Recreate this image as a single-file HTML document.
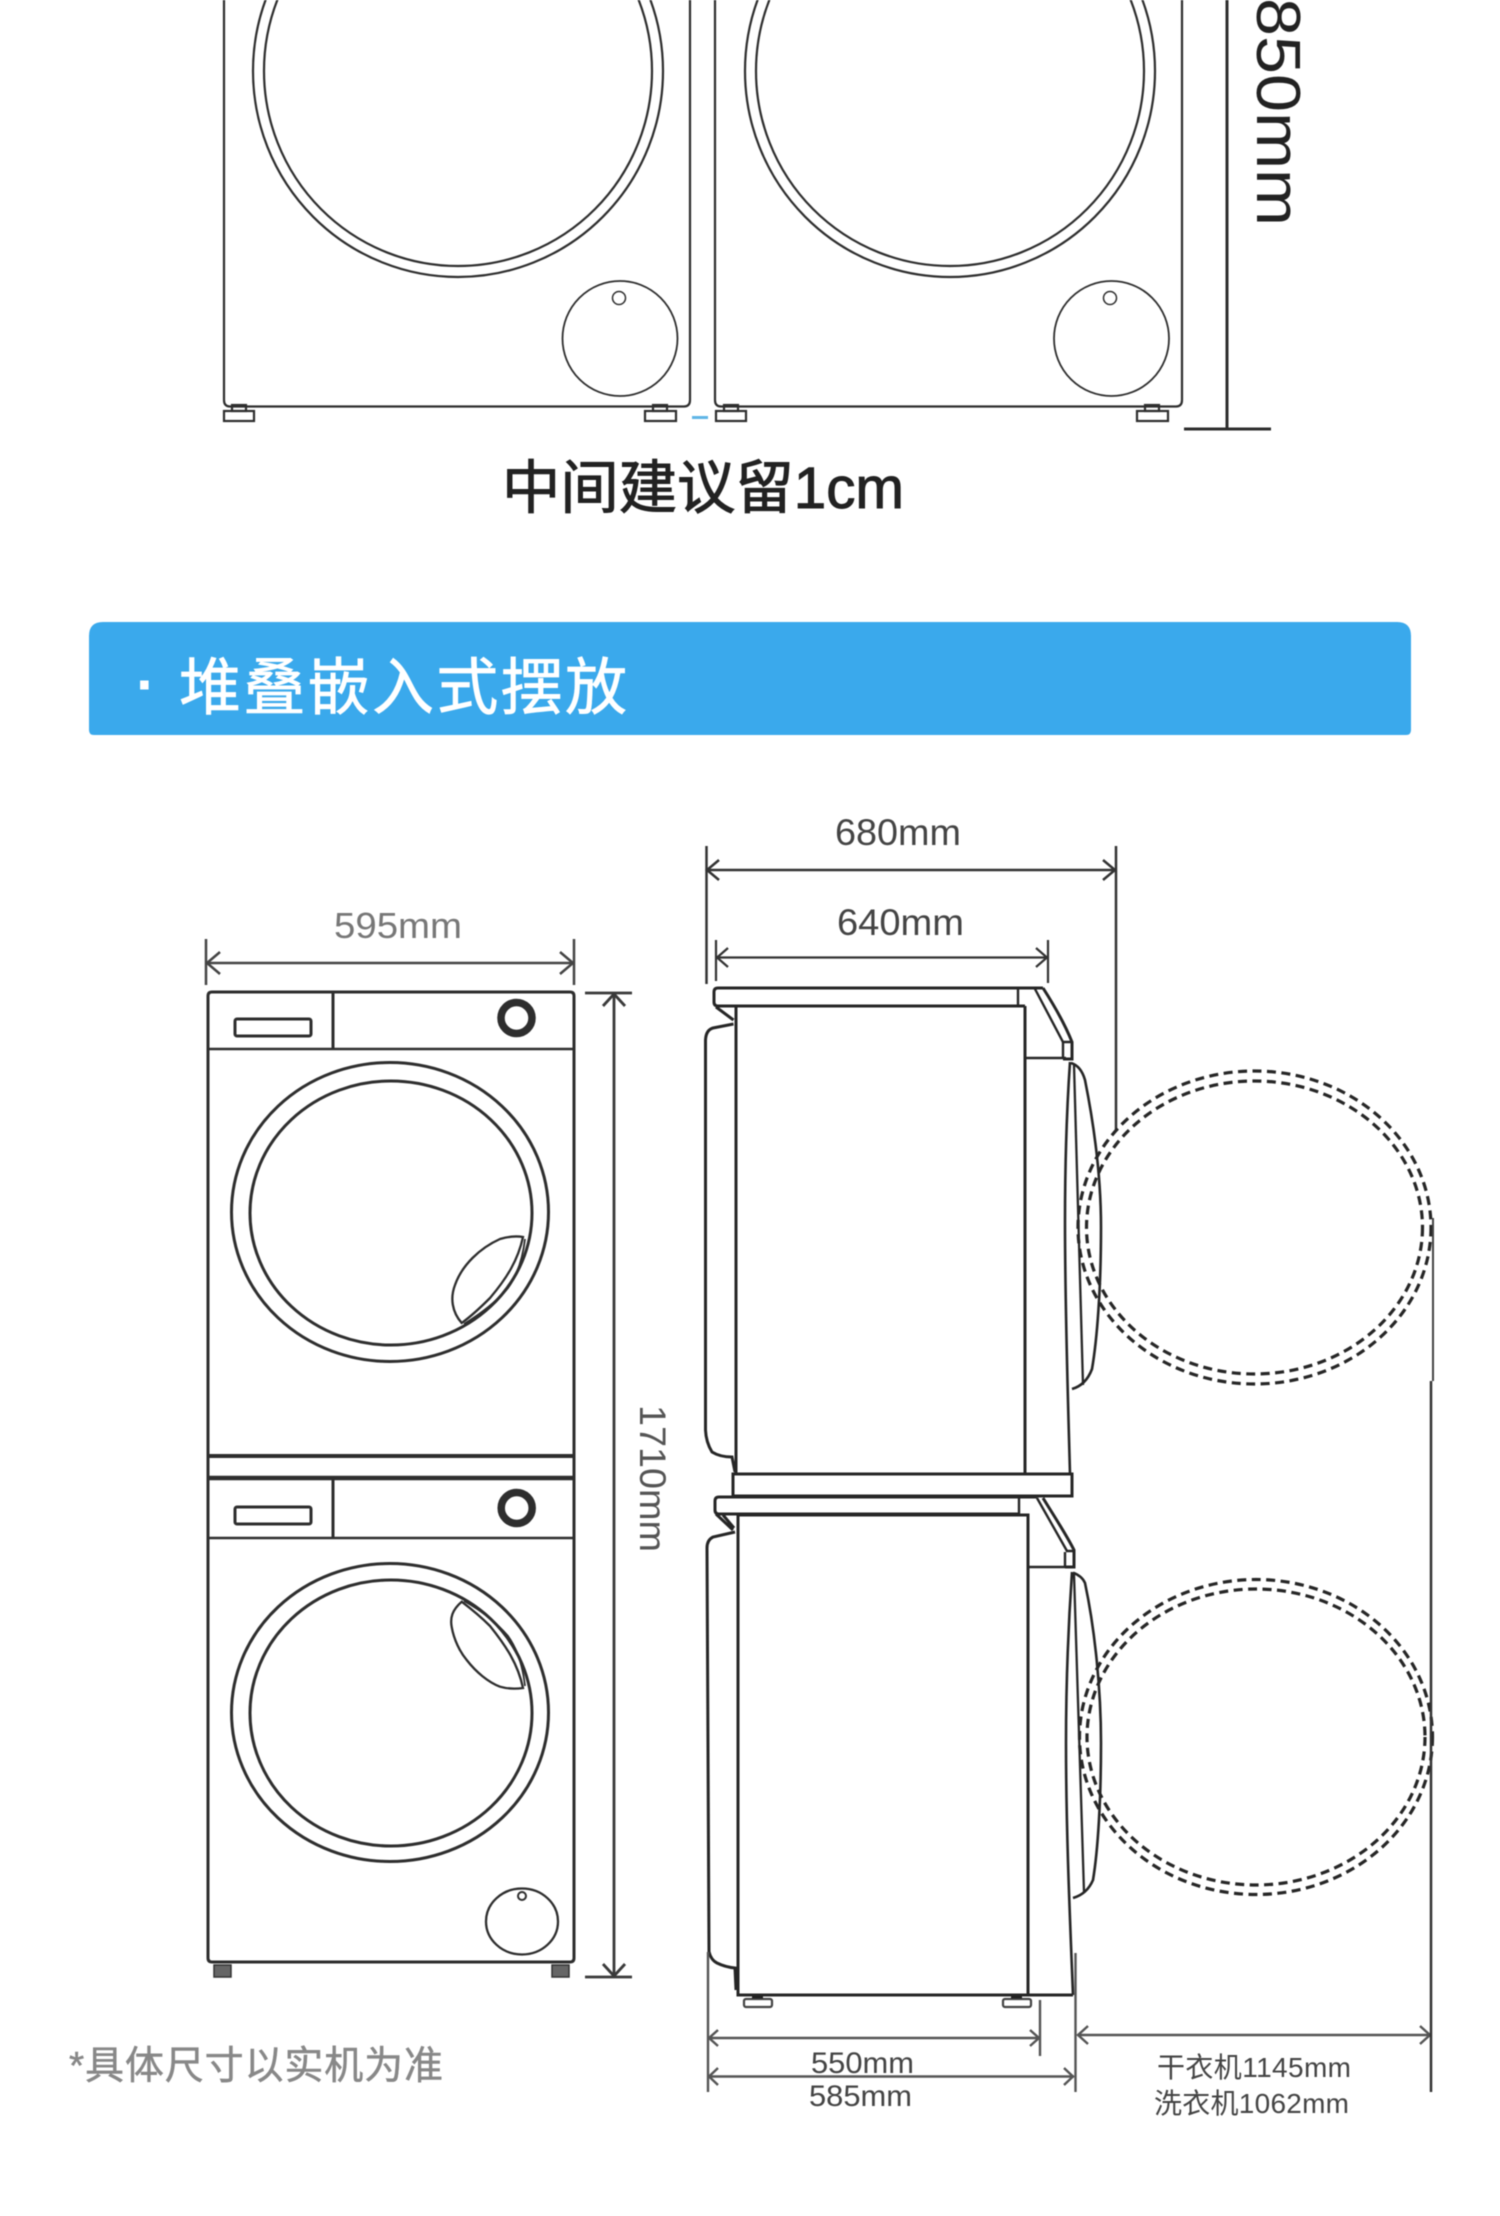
<!DOCTYPE html>
<html lang="zh">
<head>
<meta charset="utf-8">
<title>尺寸图</title>
<style>
html,body{margin:0;padding:0;background:#fff;width:1500px;height:2216px;overflow:hidden}
svg{display:block;filter:blur(.45px)}
text{font-family:"Liberation Sans","Noto Sans CJK SC",sans-serif}
</style>
</head>
<body>
<svg width="1500" height="2216" viewBox="0 0 1500 2216" xmlns="http://www.w3.org/2000/svg">
<rect width="1500" height="2216" fill="#fff"/>

<!-- TOP: side-by-side -->
<g fill="none" stroke="#2e2e2e" stroke-width="2.200">
  <path d="M224 0V400Q224 406.500 230 406.500H684Q690 406.500 690 400V0"/>
  <path d="M715 0V400Q715 406.500 721 406.500H1176Q1182 406.500 1182 400V0"/>
  <ellipse cx="458" cy="71" rx="205" ry="206"/>
  <ellipse cx="458" cy="71" rx="194" ry="195"/>
  <ellipse cx="950" cy="71" rx="205" ry="206"/>
  <ellipse cx="950" cy="71" rx="194" ry="195"/>
  <ellipse cx="620" cy="338.500" rx="57.500" ry="57.500" stroke-width="1.800"/>
  <circle cx="619" cy="298" r="6.500" stroke-width="1.500"/>
  <ellipse cx="1111.500" cy="338.500" rx="57.500" ry="57.500" stroke-width="1.800"/>
  <circle cx="1110" cy="298" r="6.500" stroke-width="1.500"/>
  <g stroke-width="2.200">
    <rect x="224" y="411" width="30" height="10"/><rect x="232" y="405" width="14" height="6"/>
    <rect x="645" y="411" width="31" height="10"/><rect x="653" y="405" width="14" height="6"/>
    <rect x="716" y="411" width="30" height="10"/><rect x="724" y="405" width="14" height="6"/>
    <rect x="1137" y="411" width="31" height="10"/><rect x="1145" y="405" width="14" height="6"/>
  </g>
</g>
<rect x="692" y="416" width="16" height="3" fill="#5fb5e6"/>
<path d="M1227 0V429M1184 429H1271" fill="none" stroke="#2e2e2e" stroke-width="3"/>
<text transform="translate(1257,-2) rotate(90)" font-size="62" fill="#222" textLength="228" lengthAdjust="spacingAndGlyphs">850mm</text>
<text x="502" y="508" font-size="58" fill="#222" stroke="#222" stroke-width="1" textLength="402" lengthAdjust="spacingAndGlyphs">中间建议留1cm</text>

<!-- BANNER -->
<path d="M89 636Q89 622 103 622H1397Q1411 622 1411 636V730Q1411 735 1406 735H94Q89 735 89 730Z" fill="#3aa9ec"/>
<text x="136" y="705" font-size="60" fill="#fff" font-weight="bold">·</text>
<text x="179" y="709" font-size="62" fill="#fff" stroke="#fff" stroke-width=".7" textLength="448" lengthAdjust="spacing">堆叠嵌入式摆放</text>

<!-- FRONT VIEW -->
<text x="334" y="938" font-size="36" fill="#777" textLength="128" lengthAdjust="spacingAndGlyphs">595mm</text>
<g fill="none" stroke="#444" stroke-width="2.500">
  <path d="M206 939V985M574 939V985M206 963H574"/>
  <path d="M220 952L207 963L220 974M560 952L573 963L560 974"/>
</g>
<g fill="none" stroke="#2e2e2e" stroke-width="3">
  <path d="M208 1958V996Q208 992 212 992H570Q574 992 574 996V1958"/>
  <path d="M208 1049H574" stroke-width="2.600"/>
  <path d="M333 992V1049"/>
  <rect x="235" y="1019" width="76" height="17" rx="2"/>
  <ellipse cx="516.500" cy="1018" rx="15.500" ry="15.500" stroke-width="7.500"/>
  <ellipse cx="390" cy="1212" rx="158.500" ry="149.500"/>
  <ellipse cx="391" cy="1213" rx="141" ry="132"/>
  <path d="M461.700 1323C452 1312 450 1298 455 1285C462 1265 480 1248 500 1239C510 1236 517 1236 523 1237C518 1260 507 1278 490 1298C480 1308 470 1317 461.700 1323Z" stroke-width="2.300"/>
  <path d="M464 1324C482 1313 496 1302 508 1288C518 1274 523 1256 525 1239" stroke-width="1.800"/>
  <!-- stack plate -->
  <path d="M208 1456H574" stroke-width="4"/>
  <path d="M208 1478H574" stroke-width="4.500"/>
  <!-- lower machine -->
  <path d="M208 1538H574" stroke-width="2.600"/>
  <path d="M333 1478V1538"/>
  <rect x="235" y="1507" width="76" height="17" rx="2"/>
  <ellipse cx="516.700" cy="1508" rx="15.500" ry="15.500" stroke-width="7.500"/>
  <ellipse cx="390" cy="1712.500" rx="158.500" ry="149"/>
  <ellipse cx="391" cy="1713" rx="141" ry="133"/>
  <path d="M461.700 1601.700C452 1610 450 1618 451.700 1627C454 1640 460 1652 466.700 1660C476 1672 488 1682 500 1686.700C508 1689 516 1689 523 1688C518 1664 506 1646 490 1626C480 1616 470 1608 461.700 1601.700Z" stroke-width="2.300"/>
  <path d="M464 1601C482 1611 496 1622 508 1636C518 1650 523 1668 525 1686" stroke-width="1.800"/>
  <ellipse cx="522" cy="1921.500" rx="36" ry="33" stroke-width="2.300"/>
  <circle cx="522" cy="1896" r="4" stroke-width="2"/>
  <path d="M208 1958Q208 1962 212 1962H570Q574 1962 574 1958"/>
</g>
<g fill="#666" stroke="#333" stroke-width="1.500">
  <rect x="214" y="1965" width="17" height="12"/>
  <rect x="552" y="1965" width="17" height="12"/>
</g>
<g fill="none" stroke="#3a3a3a" stroke-width="2.800">
  <path d="M585 993H632M585 1977H632M614 993V1977"/>
  <path d="M603 1006L614 994L625 1006M603 1964L614 1976L625 1964"/>
</g>
<text transform="translate(640,1405) rotate(90)" font-size="37" fill="#555" textLength="147" lengthAdjust="spacingAndGlyphs">1710mm</text>
<text x="69" y="2079" font-size="39" fill="#888" stroke="#888" stroke-width=".5" textLength="374" lengthAdjust="spacing">*具体尺寸以实机为准</text>

<!-- SIDE VIEW labels + dims -->
<text x="835" y="845" font-size="37" fill="#444" textLength="126" lengthAdjust="spacingAndGlyphs">680mm</text>
<text x="837" y="935" font-size="37" fill="#444" textLength="127" lengthAdjust="spacingAndGlyphs">640mm</text>
<g fill="none" stroke="#333" stroke-width="2.500">
  <path d="M706.500 846V984M1116 846V1130"/>
  <path d="M706.500 870H1116M719 860L707 870L719 880M1103 860L1115 870L1103 880"/>
  <path d="M716 940V981M1048 940V983" stroke-width="2.200"/>
  <path d="M716 957.500H1048M728 948L717 957.500L728 967M1036 948L1047 957.500L1036 967" stroke-width="2.200"/>
</g>

<!-- Side upper machine -->
<g fill="none" stroke="#262626" stroke-width="3">
  <path d="M1043 988H718Q714 988 714 992V1002Q714 1006 718 1006H1025"/>
  <path d="M1018 988V1006" stroke-width="2.400"/>
  <path d="M736 1006V1474"/>
  <path d="M1025 1006V1474"/>
  <path d="M1043 988C1052 1002 1064 1022 1072 1042V1059H1063"/>
  <path d="M1035 989L1063 1042H1072" stroke-width="2.400"/>
  <path d="M1063 1042V1059" stroke-width="2.400"/>
  <path d="M1025 1058H1066" stroke-width="2.600"/>
  <path d="M1070 1062C1066 1120 1065 1170 1065 1222C1065 1310 1068 1400 1070 1474" stroke-width="2.600"/>
  <path d="M1074 1065C1076 1140 1079 1240 1083 1385" stroke-width="2.300"/>
  <path d="M1071 1063Q1081 1066 1085 1080C1095 1130 1101 1180 1101 1227C1101 1290 1097 1340 1092 1369Q1086 1385 1072 1389" stroke-width="2.600"/>
  <path d="M733.500 1024L713 1028Q706 1030 705.500 1040V1430Q706 1442 712 1452Q720 1457 732 1457L735 1472"/>
  <path d="M716 1007L733.500 1020"/>
  <path d="M733 1474H1072V1496H733Z"/>
</g>
<!-- Side lower machine -->
<g fill="none" stroke="#262626" stroke-width="3">
  <path d="M1037 1497H719Q715 1497 715 1501V1510Q715 1514 719 1514H1019"/>
  <path d="M1019 1497V1514" stroke-width="2.400"/>
  <path d="M738 1515H1028V1995"/>
  <path d="M738 1515V1995H1073"/>
  <path d="M1043 1498C1054 1516 1066 1534 1074 1550V1567H1065"/>
  <path d="M1037 1498L1067 1551H1074" stroke-width="2.400"/>
  <path d="M1065 1552V1567" stroke-width="2.400"/>
  <path d="M1028 1567H1066" stroke-width="2.600"/>
  <path d="M1072 1572C1068 1630 1066 1690 1066 1743C1066 1830 1070 1920 1073 1995" stroke-width="2.600"/>
  <path d="M1074 1574C1077 1660 1080 1760 1084 1892" stroke-width="2.300"/>
  <path d="M1073 1572.700Q1082 1576 1085 1583C1095 1630 1101 1690 1101 1743C1101 1800 1098 1850 1093 1880Q1087 1894 1073 1898" stroke-width="2.600"/>
  <path d="M735 1532L713 1537Q707 1540 707 1548L709 1951.700Q711 1960 717 1963Q725 1967 735 1968L736 1990"/>
  <path d="M716 1514L733 1530M723 1515L734 1528"/>
</g>
<g fill="#fff" stroke="#444" stroke-width="2.200">
  <rect x="744" y="1999" width="28" height="8" rx="2"/>
  <rect x="1003" y="1999" width="28" height="8" rx="2"/>
</g>
<path d="M752 1997H763M1011 1997H1022" stroke="#222" stroke-width="3"/>

<!-- Dashed swing circles -->
<g fill="none" stroke="#262626" stroke-width="3.200" stroke-dasharray="9 5.500">
  <ellipse cx="1254.500" cy="1227.500" rx="176.500" ry="156.500"/>
  <ellipse cx="1254.500" cy="1227.500" rx="168" ry="146.500"/>
  <ellipse cx="1256" cy="1737" rx="176.500" ry="157.500"/>
  <ellipse cx="1256" cy="1737" rx="169" ry="148"/>
</g>

<!-- Bottom dims -->
<g fill="none" stroke="#555" stroke-width="2.400">
  <path d="M708 1952V2092M1075.500 1953V2092M1040 2000V2056"/>
  <path d="M709 2038H1040M718 2030L709 2038L718 2046M1030 2030L1039 2038L1030 2046"/>
  <path d="M709 2076.500H1074M718 2068L709 2076.500L718 2085M1064 2068L1073 2076.500L1064 2085"/>
  <path d="M1078 2035H1430M1088 2026L1078 2035L1088 2044M1420 2026L1430 2035L1420 2044"/>
</g>
<path d="M1433 1218V1381" fill="none" stroke="#444" stroke-width="2"/>
<path d="M1431 1381V2092" fill="none" stroke="#333" stroke-width="2.500"/>
<text x="811" y="2073" font-size="30" fill="#444" textLength="103" lengthAdjust="spacingAndGlyphs">550mm</text>
<text x="809" y="2106" font-size="30" fill="#444" textLength="103" lengthAdjust="spacingAndGlyphs">585mm</text>
<text x="1157" y="2077" font-size="28" fill="#444" textLength="194" lengthAdjust="spacing">干衣机1145mm</text>
<text x="1154" y="2113" font-size="28" fill="#444" textLength="195" lengthAdjust="spacing">洗衣机1062mm</text>
</svg>
</body>
</html>
